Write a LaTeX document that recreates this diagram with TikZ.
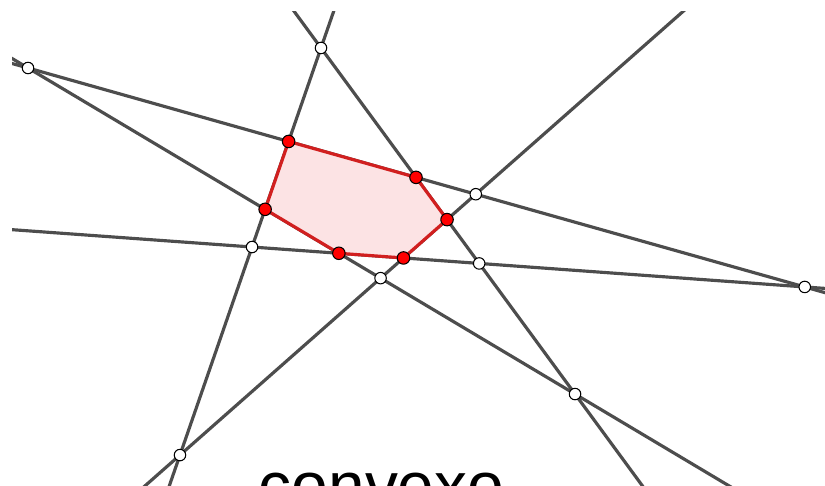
\documentclass[tikz,border=0pt]{standalone}
\usepackage{fontspec}
\setmainfont{Liberation Sans}
\usepackage{tikz}
\usetikzlibrary{calc}
\definecolor{gris}{HTML}{4D4D4D}
\definecolor{vora}{HTML}{D11F1F}
\definecolor{rosa}{HTML}{FCE3E4}

\begin{document}
\begin{tikzpicture}[
    x=0.02cm,
    y=-0.02cm,
    recta/.style={line width=1.8pt, gris},
    poligon/.style={line width=1.8pt, vora, fill=rosa, line join=round},
    punt/.style={circle, draw=black, fill=white, line width=0.6pt,
        minimum size=0.23cm, inner sep=0pt},
    vertex/.style={punt, fill=red, minimum size=0.25cm}
]

    \useasboundingbox (0,0) rectangle (825,486);

    % Rectes
    \coordinate (a1) at (0,60.1);
    \coordinate (a2) at (840,296.9);
    \coordinate (b1) at (285.8,0);
    \coordinate (b2) at (652.8,500);
    \coordinate (c1) at (696.0,0);
    \coordinate (c2) at (129.0,500);
    \coordinate (d1) at (0,228.8);
    \coordinate (d2) at (840,289.5);
    \coordinate (e1) at (0,51.3);
    \coordinate (e2) at (840,552.0);
    \coordinate (f1) at (337.6,0);
    \coordinate (f2) at (164.4,500);

    \begin{scope}
        \clip (12,12) rectangle (825,486);
        \draw[recta] (a1) -- (a2);
        \draw[recta] (b1) -- (b2);
        \draw[recta] (c1) -- (c2);
        \draw[recta] (d1) -- (d2);
        \draw[recta] (e1) -- (e2);
        \draw[recta] (f1) -- (f2);
    \end{scope}

    % Interseccions
    \coordinate (ab) at (intersection of a1--a2 and b1--b2);
    \coordinate (ac) at (intersection of a1--a2 and c1--c2);
    \coordinate (ad) at (intersection of a1--a2 and d1--d2);
    \coordinate (ae) at (intersection of a1--a2 and e1--e2);
    \coordinate (af) at (intersection of a1--a2 and f1--f2);
    \coordinate (bc) at (intersection of b1--b2 and c1--c2);
    \coordinate (bd) at (intersection of b1--b2 and d1--d2);
    \coordinate (be) at (intersection of b1--b2 and e1--e2);
    \coordinate (bf) at (intersection of b1--b2 and f1--f2);
    \coordinate (cd) at (intersection of c1--c2 and d1--d2);
    \coordinate (ce) at (intersection of c1--c2 and e1--e2);
    \coordinate (cf) at (intersection of c1--c2 and f1--f2);
    \coordinate (de) at (intersection of d1--d2 and e1--e2);
    \coordinate (df) at (intersection of d1--d2 and f1--f2);
    \coordinate (ef) at (intersection of e1--e2 and f1--f2);

    % Poligon
    \filldraw[poligon] (af) -- (ab) -- (bc) -- (cd) -- (de) -- (ef) -- cycle;

    % Punts
    \foreach \p in {ac,ad,ae,bd,be,bf,ce,cf,df}
        \node[punt] (n\p) at (\p) {};

    % Vertexs
    \foreach \p in {af,ab,bc,cd,de,ef}
        \node[vertex] (n\p) at (\p) {};

    % Text
    \node[
        anchor=base,
        inner sep=0pt,
        font=\fontsize{37.5}{40}\selectfont
    ] (titol) at (381.5,508) {convexo};

\end{tikzpicture}
\end{document}
